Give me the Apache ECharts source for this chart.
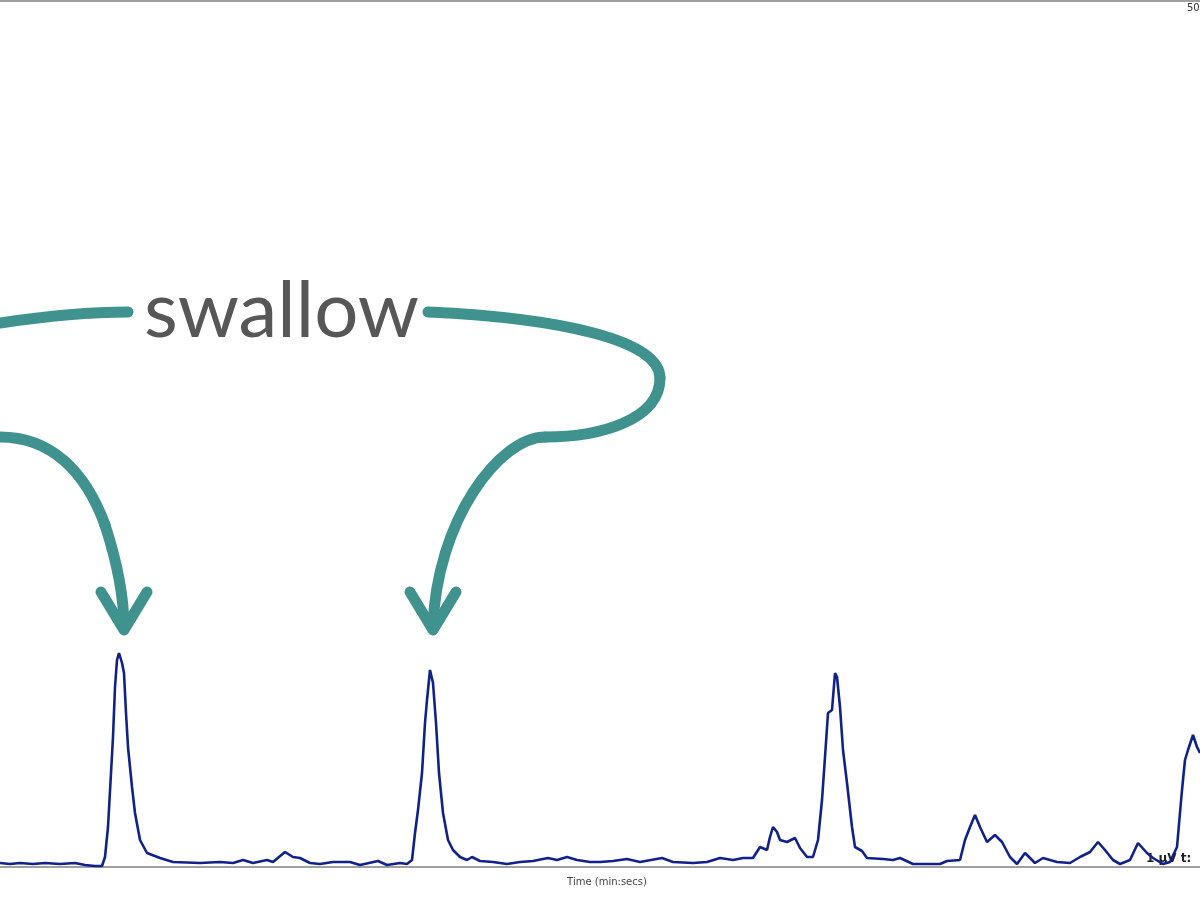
<!DOCTYPE html>
<html>
<head>
<meta charset="utf-8">
<script src="https://cdn.jsdelivr.net/npm/echarts@6/dist/echarts.min.js"></script>
<style>html,body{margin:0;padding:0;background:#fff}#c{width:1200px;height:900px}</style>
</head>
<body>
<div id="c"></div>
<script>
// time positions (arbitrary units across the trace)
const times = [0,10,20,33,45,60,75,85,95,102,105,108,111,113,115,117,119,122,124,126,128,132,135,140,147,160,173,200,220,233,243,253,267,273,285,293,300,310,320,333,350,360,378,387,400,407,412,415,418,422,425,427,430,432,433,436,439,443,448,453,460,467,472,480,493,507,520,533,548,557,567,577,590,600,613,627,640,662,673,693,707,720,733,743,753,760,767,770,773,777,780,787,795,800,807,813,818,822,825,828,832,835,837,840,843,847,852,855,862,867,883,893,900,913,940,947,960,965,970,975,980,987,995,1002,1010,1017,1025,1035,1043,1057,1070,1080,1090,1098,1105,1113,1120,1130,1138,1147,1153,1163,1170,1177,1182,1185,1188,1193,1197,1200];
// signal amplitude
const signal = [4,3,4,3,4,3,4,2,1,1,10,40,94,130,180,207,214,204,194,154,120,80,54,27,14,9,5,4,5,4,7,4,7,5,15,10,9,4,3,5,5,2,6,2,4,3,7,34,57,94,144,167,197,195,184,144,94,54,27,17,10,7,10,6,5,3,5,6,9,7,10,7,5,5,6,8,5,9,5,4,5,9,7,9,9,20,17,30,40,35,27,25,29,19,10,10,27,67,110,154,157,194,190,160,117,84,40,20,16,9,8,7,9,3,3,6,7,27,40,52,40,25,32,25,10,3,14,4,9,5,4,10,15,25,17,7,3,7,24,14,9,3,5,20,77,107,117,132,120,114];
const axisName = "Time (min:secs)";
const annotation = "swallow";
const cornerLabel = "50";
const scaleLabel = "1 \u00b5V t:";

const chart = echarts.init(document.getElementById('c'), null, {renderer:'canvas'});
const teal = '#3f928d';
const st = () => ({stroke: teal, lineWidth: 11, fill: null, lineCap: 'round', lineJoin: 'round'});
function bez(x1,y1,c1x,c1y,c2x,c2y,x2,y2){
  return {type:'bezierCurve', shape:{x1:x1,y1:y1,cpx1:c1x,cpy1:c1y,cpx2:c2x,cpy2:c2y,x2:x2,y2:y2}, style: st()};
}
chart.setOption({
  backgroundColor: '#ffffff',
  animation: false,
  grid: {left: 0, right: 0, top: 0, bottom: 33, containLabel: false},
  xAxis: {
    type: 'value', min: 0, max: 1200,
    axisLine: {show: true, lineStyle: {color: '#a0a0a0', width: 2}},
    axisTick: {show: false}, axisLabel: {show: false}, splitLine: {show: false},
    name: axisName, nameLocation: 'middle', nameGap: 10,
    nameTextStyle: {color: '#444', fontSize: 10, fontFamily: 'DejaVu Sans', padding: [0, 0, 0, 14]}
  },
  yAxis: {
    type: 'value', min: 0, max: 867, show: false, splitLine: {show: false}
  },
  series: [{
    type: 'line',
    data: times.map((t, i) => [t, signal[i]]),
    showSymbol: false,
    lineStyle: {color: '#10218a', width: 2.6},
    itemStyle: {color: '#10218a'}
  }],
  graphic: [
    {type: 'rect', shape: {x: 0, y: 0, width: 1200, height: 2}, style: {fill: '#a0a0a0'}},
    {type: 'text', x: 1187, y: 3, style: {text: cornerLabel, fill: '#333', font: '10px "DejaVu Sans"'}},
    {type: 'text', x: 1146, y: 853, style: {text: scaleLabel, fill: '#222', font: 'bold 12px "DejaVu Sans"'}},
    bez(0,323, 40,317, 90,312, 128,312),
    bez(428,312, 560,318, 660,340, 660,378),
    bez(660,378, 660,420, 600,437, 545,437),
    bez(545,437, 500,437, 436,520, 433,628),
    bez(0,437, 50,437, 85,470, 105,525),
    bez(105,525, 118,565, 124,600, 124,628),
    {type: 'polyline', shape: {points: [[101,592],[124,630],[147,592]]}, style: st()},
    {type: 'polyline', shape: {points: [[410,592],[433,630],[456,592]]}, style: st()},
    {type: 'text', x: 144, y: 273, style: {text: annotation, fill: '#575757', font: '78px Lato'}}
  ]
});
</script>
</body>
</html>
